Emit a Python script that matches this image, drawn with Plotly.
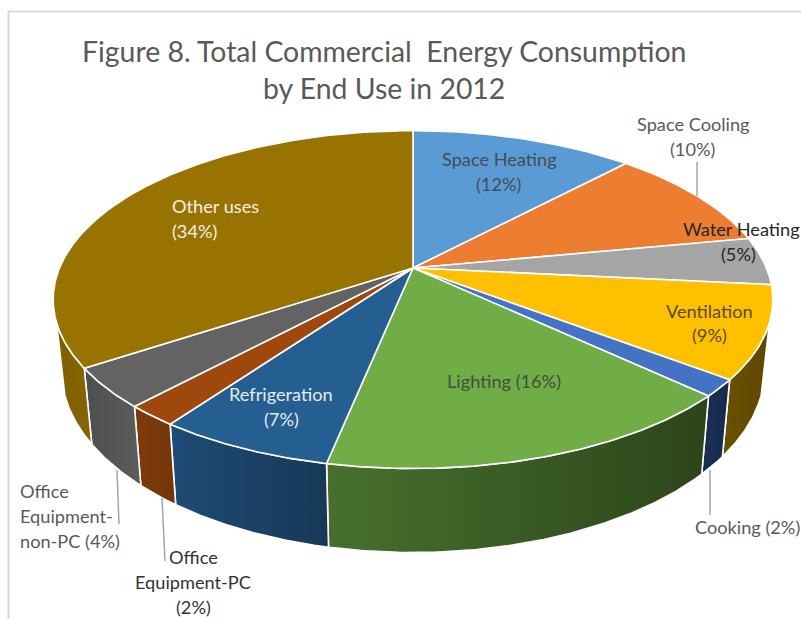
import math
import plotly.graph_objects as go

# End uses, clockwise from twelve o'clock; labels show these rounded to whole percents
categories = ["Space Heating", "Space Cooling", "Water Heating", "Ventilation", "Cooking",
              "Lighting", "Refrigeration", "Office Equipment-PC", "Office Equipment-non-PC", "Other uses"]
shares = [12.0, 10.0, 4.6, 8.8, 1.6, 16.2, 6.7, 2.0, 3.8, 34.3]
top_colors = ["#5B9BD5", "#ED7D31", "#A5A5A5", "#FFC000", "#4472C4",
              "#70AD47", "#255E91", "#9E480E", "#636363", "#997300"]
side_colors = [("#3A6A96", "#3A6A96"), ("#9A5020", "#9A5020"), ("#6C6C6C", "#6C6C6C"),
               ("#6B5000", "#5F4700"), ("#1B2E54", "#172A4E"),
               ("#47702E", "#2C451A"), ("#1F4B75", "#173857"), ("#7E3A0B", "#743609"),
               ("#4E4E4E", "#5C5C5C"), ("#7F6000", "#856500")]
title_lines = ["Figure 8. Total Commercial  Energy Consumption", "by End Use in 2012"]

# Perspective projection of the tilted disc onto the page
CX, CY = 413.0, 268.0
SCALE_X, SCALE_Y, TILT = 353.5, 163.0, 0.187
VISIBLE_FROM, VISIBLE_TO = 108.5, 251.5


def rim(angle):
    a = math.radians(angle)
    u, v = math.sin(a), -math.cos(a)
    w = 1 - TILT * v
    return CX + SCALE_X * u / w, CY + SCALE_Y * v / w


def lower(x, y):
    return CX + (x - CX) * 0.977, y + 68 + 0.08 * (y - CY)


def arc(a0, a1):
    n = max(2, int(abs(a1 - a0) * 2))
    return [rim(a0 + (a1 - a0) * i / n) for i in range(n + 1)]


total = sum(shares)
edges = [0.0]
for s in shares:
    edges.append(edges[-1] + s / total * 360)

fig = go.Figure()

# Wall of the disc, drawn first so the top face sits over it
for i in range(len(shares)):
    a0, a1 = max(edges[i], VISIBLE_FROM), min(edges[i + 1], VISIBLE_TO)
    if a1 <= a0:
        continue
    upper = arc(a0, a1)
    below = [lower(x, y) for x, y in upper][::-1]
    pts = upper + below + [upper[0]]
    c0, c1 = side_colors[i]
    fig.add_trace(go.Scatter(
        x=[p[0] for p in pts], y=[p[1] for p in pts], mode="lines", fill="toself",
        fillgradient=dict(type="horizontal", colorscale=[[0, c0], [1, c1]]),
        line=dict(color="white", width=1.6), hoverinfo="skip", showlegend=False))

# Top face
for i, name in enumerate(categories):
    pts = [(CX, CY)] + arc(edges[i], edges[i + 1]) + [(CX, CY)]
    fig.add_trace(go.Scatter(
        x=[p[0] for p in pts], y=[p[1] for p in pts], mode="lines", fill="toself",
        fillcolor=top_colors[i], line=dict(color="white", width=1.6),
        name=name, hoverinfo="name", showlegend=False))

# Leader lines for the labels sitting outside their slices
leaders = [((697, 162), (697, 196)), ((710, 470), (710, 515)),
           ((117, 470), (119, 524)), ((162, 498), (165, 561))]
for (x0, y0), (x1, y1) in leaders:
    fig.add_trace(go.Scatter(x=[x0, x1], y=[y0, y1], mode="lines",
                             line=dict(color="#A6A6A6", width=1.5),
                             hoverinfo="skip", showlegend=False))

pct = {c: f"({round(s)}%)" for c, s in zip(categories, shares)}
GREY, DARK, LIGHT = "#595959", "#262626", "#F4F0E6"
slice_text = "#454C55"
labels = [
    ("Space Heating", 499, 159, "center", slice_text),
    (pct["Space Heating"], 499, 184, "center", slice_text),
    ("Space Cooling", 693, 124, "center", GREY),
    (pct["Space Cooling"], 693, 149, "center", GREY),
    ("Water Heating", 741, 229, "center", DARK),
    (pct["Water Heating"], 738, 254, "center", DARK),
    ("Ventilation", 709, 311, "center", "#594A14"),
    (pct["Ventilation"], 709, 335, "center", "#594A14"),
    (f"Cooking {pct['Cooking']}", 747, 527, "center", GREY),
    (f"Lighting {pct['Lighting']}", 504, 381, "center", "#40503A"),
    ("Refrigeration", 281, 394, "center", "#E4ECF4"),
    (pct["Refrigeration"], 281, 419, "center", "#E4ECF4"),
    ("Other uses", 170, 206, "left", LIGHT),
    (pct["Other uses"], 170, 231, "left", LIGHT),
    ("Office", 18, 491, "left", GREY),
    ("Equipment-", 18, 516, "left", GREY),
    (f"non-PC {pct['Office Equipment-non-PC']}", 18, 541, "left", GREY),
    ("Office", 193, 557, "center", "#333333"),
    ("Equipment-PC", 193, 582, "center", "#333333"),
    (pct["Office Equipment-PC"], 193, 607, "center", "#333333"),
]
annotations = [dict(x=x, y=y, xref="x", yref="y", text=t, showarrow=False, xanchor=anc, yanchor="middle",
                    font=dict(family="Lato", size=18.2, color=col))
               for t, x, y, anc, col in labels]
for line, y in zip(title_lines, (51, 88)):
    annotations.append(dict(x=383.5, y=y, xref="x", yref="y", text=line, showarrow=False,
                            xanchor="center", yanchor="middle",
                            font=dict(family="Lato", size=28.4, color="#595959")))

frame = dict(type="path", path="M 8.5 619 L 8.5 11.5 L 801 11.5",
             line=dict(color="#D9D9D9", width=2), xref="x", yref="y", layer="below")

fig.update_layout(
    width=801, height=619, margin=dict(l=0, r=0, t=0, b=0), autosize=False,
    paper_bgcolor="white", plot_bgcolor="white", showlegend=False,
    xaxis=dict(range=[0, 801], visible=False, fixedrange=True),
    yaxis=dict(range=[619, 0], visible=False, fixedrange=True),
    annotations=annotations, shapes=[frame])

fig.write_html("out.html")
